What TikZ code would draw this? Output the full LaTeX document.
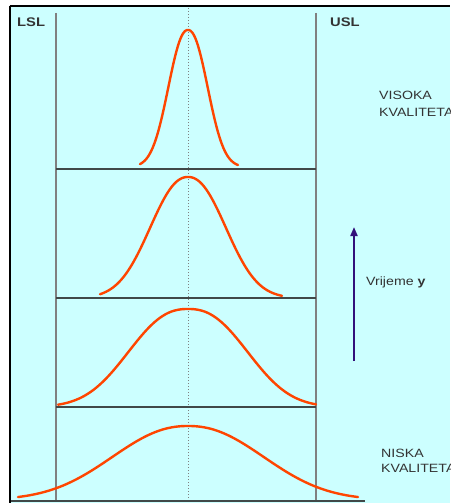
\documentclass[tikz,border=0pt]{standalone}
\usepackage{fontspec}
\setmainfont{Liberation Sans}
\newfontfamily\widefont[FakeStretch=1.18]{Liberation Sans}
\usetikzlibrary{arrows.meta}
\definecolor{bg}{HTML}{CCFFFF}
\definecolor{curve}{HTML}{FF4500}
\definecolor{limit}{HTML}{808080}
\definecolor{hline}{HTML}{404848}
\definecolor{txt}{HTML}{333333}
\definecolor{arr}{HTML}{33107A}
\tikzset{
  gauss/.style={draw=curve, line width=2.4pt, line cap=round},
  limitline/.style={draw=limit, line width=2pt},
  sepline/.style={draw=hline, line width=1.5pt},
  lbl/.style={anchor=base west, inner sep=0pt, text=txt, font=\widefont\fontsize{12}{15}\selectfont},
  limlbl/.style={anchor=base west, inner sep=0pt, text=txt, font=\widefont\fontsize{12.5}{15}\selectfont\bfseries},
}
\begin{document}
\begin{tikzpicture}[x=1pt,y=-1pt]
\useasboundingbox (0,0) rectangle (450,503);
\clip (0,0) rectangle (450,503);
\fill[white] (0,0) rectangle (450,503);
\fill[bg] (10,6) rectangle (450,503);
\draw[black, line width=2.5pt] (9.5,6) -- (450,6);
\draw[black, line width=2.5pt] (10,6) -- (10,503);
% limit lines
\draw[limitline] (56,13) -- (56,501);
\draw[limitline] (316,13) -- (316,501);
% centre dotted line
\draw[limit, line width=1pt, dotted] (188,8) -- (188,501);
% separators
\draw[sepline] (56,169) -- (316,169);
\draw[sepline] (56,298) -- (316,298);
\draw[sepline] (56,407) -- (316,407);
\draw[sepline] (11,501) -- (365,501);
% curves
\draw[gauss] plot[domain=140:238, samples=121, smooth] (\x, {167-137*exp(-pow((abs(\x-188)+0.001)/26,2.2))});
\draw[gauss] plot[domain=100:282, samples=121, smooth] (\x, {298-121*exp(-pow((abs(\x-188)+0.001)/50,2.2))});
\draw[gauss] plot[domain=58:316, samples=121, smooth] (\x, {407-98*exp(-pow((abs(\x-188)+0.001)/75,2.4))});
\draw[gauss] plot[domain=18:358, samples=121, smooth] (\x, {500-74*exp(-pow((abs(\x-188)+0.001)/100,2.2))});
% labels
\node[limlbl] (lsl) at (17,27) {LSL};
\node[limlbl] (usl) at (330,27) {USL};
\node[lbl] (vis1) at (379,99) {VISOKA};
\node[lbl] (vis2) at (379,116) {KVALITETA};
\node[lbl] (nis1) at (381,457) {NISKA};
\node[lbl] (nis2) at (381,472) {KVALITETA};
\node[lbl] (vrij) at (366,285) {Vrijeme \textbf{y}};
% arrow
\coordinate (abot) at (354,361);
\coordinate (atop) at (354,227);
\draw[arr, line width=2pt, -{Triangle[length=9pt,width=7pt]}] (abot) -- (atop);
\end{tikzpicture}
\end{document}
